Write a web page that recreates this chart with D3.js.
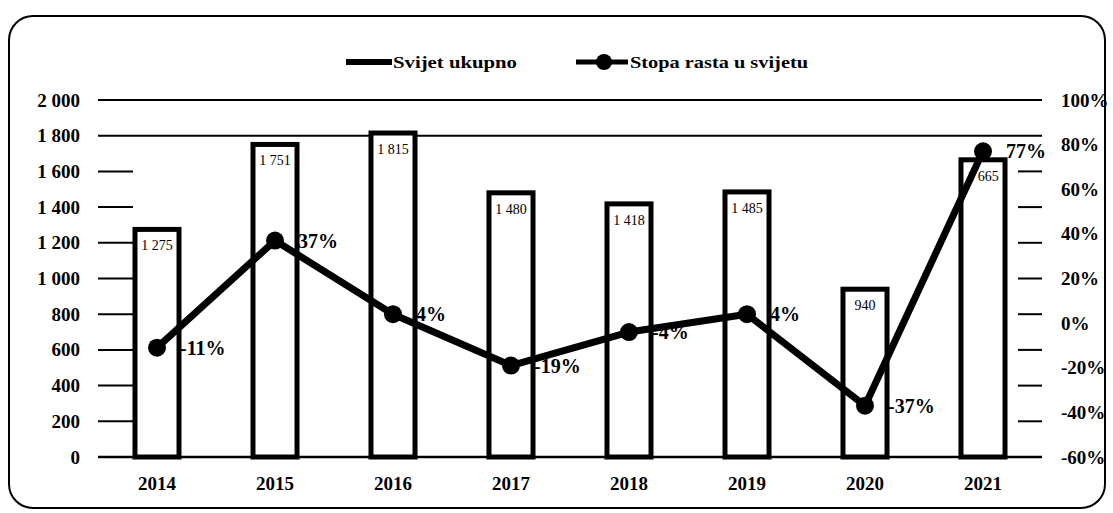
<!DOCTYPE html>
<html>
<head>
<meta charset="utf-8">
<script src="https://cdn.jsdelivr.net/npm/d3@7"></script>
<style>
  html, body { margin: 0; padding: 0; background: #fff; }
  svg { display: block; }
  text { font-family: "Liberation Serif", "DejaVu Serif", serif; fill: #000; }
</style>
</head>
<body>
<svg id="chart" width="1113" height="513"></svg>
<script>
// World total (bars, left axis) and yearly growth rate (line, right axis)
const years = ["2014", "2015", "2016", "2017", "2018", "2019", "2020", "2021"];
const totals = [1275, 1751, 1815, 1480, 1418, 1485, 940, 1665];
const growth = [-0.11, 0.37, 0.04, -0.19, -0.04, 0.04, -0.37, 0.77];
const growthLabels = ["-11%", "37%", "4%", "-19%", "-4%", "4%", "-37%", "77%"];
const leftTicks = [0, 200, 400, 600, 800, 1000, 1200, 1400, 1600, 1800, 2000];
const rightTicks = [-0.6, -0.4, -0.2, 0, 0.2, 0.4, 0.6, 0.8, 1.0];
const seriesNames = ["Svijet ukupno", "Stopa rasta u svijetu"];

const svg = d3.select("#chart");
const plot = { left: 98, right: 1042, top: 100, bottom: 457 };

const x = d3.scaleBand().domain(years).range([plot.left, plot.right])
  .paddingInner(0.593).paddingOuter(0.2965);
const yL = d3.scaleLinear().domain([0, 2000]).range([plot.bottom, plot.top]);
const yR = d3.scaleLinear().domain([-0.6, 1.0]).range([plot.bottom, plot.top]);
const cx = d => x(d) + x.bandwidth() / 2;

const fmtThousands = v => {
  const s = String(v);
  return s.length > 3 ? s.slice(0, s.length - 3) + " " + s.slice(-3) : s;
};
const fmtPct = v => Math.round(v * 100) + "%";

// rounded frame around the chart
svg.append("rect")
  .attr("x", 9).attr("y", 16).attr("width", 1096).attr("height", 492)
  .attr("rx", 24).attr("ry", 24)
  .attr("fill", "none").attr("stroke", "#000").attr("stroke-width", 2);

// gridlines: full width at the top two ticks, short stubs on both sides elsewhere
const grid = svg.append("g");
leftTicks.forEach(t => {
  const yy = yL(t);
  if (t >= 1800 || t === 0) {
    grid.append("line").attr("x1", plot.left).attr("x2", plot.right)
      .attr("y1", yy).attr("y2", yy).attr("stroke", "#000").attr("stroke-width", t === 0 ? 2.5 : 2);
  } else {
    grid.append("line").attr("x1", plot.left).attr("x2", plot.left + 35)
      .attr("y1", yy).attr("y2", yy).attr("stroke", "#000").attr("stroke-width", 2);
    grid.append("line").attr("x1", plot.right - 24).attr("x2", plot.right)
      .attr("y1", yy).attr("y2", yy).attr("stroke", "#000").attr("stroke-width", 2);
  }
});

// left axis
const axL = svg.append("g").attr("transform", `translate(${plot.left - 18},0)`)
  .call(d3.axisLeft(yL).tickValues(leftTicks).tickFormat(fmtThousands).tickSize(0).tickPadding(0));
axL.select(".domain").remove();
axL.selectAll("text").attr("font-size", 19).attr("font-weight", "bold")
  .style("font-family", "'Liberation Serif', serif");

// right axis
const axR = svg.append("g").attr("transform", `translate(${plot.right + 19},0)`)
  .call(d3.axisRight(yR).tickValues(rightTicks).tickFormat(fmtPct).tickSize(0).tickPadding(0));
axR.select(".domain").remove();
axR.selectAll("text").attr("font-size", 19).attr("font-weight", "bold")
  .style("font-family", "'Liberation Serif', serif");

// category axis
const axX = svg.append("g").attr("transform", `translate(0,${plot.bottom + 16})`)
  .call(d3.axisBottom(x).tickSize(0).tickPadding(0));
axX.select(".domain").remove();
axX.selectAll("text").attr("font-size", 19).attr("font-weight", "bold")
  .attr("dy", "0.9em")
  .style("font-family", "'Liberation Serif', serif");

// bars: white fill with heavy black outline
const barW = x.bandwidth() - 4;
svg.append("g").selectAll("rect").data(years).join("rect")
  .attr("x", d => cx(d) - barW / 2)
  .attr("y", (d, i) => yL(totals[i]))
  .attr("width", barW)
  .attr("height", (d, i) => yL(0) - yL(totals[i]))
  .attr("fill", "#fff").attr("stroke", "#000").attr("stroke-width", 5);

// bar value labels inside the top of each bar
svg.append("g").selectAll("text").data(years).join("text")
  .attr("x", d => cx(d))
  .attr("y", (d, i) => yL(totals[i]) + 21)
  .attr("text-anchor", "middle")
  .attr("font-size", 14)
  .text((d, i) => fmtThousands(totals[i]));

// growth rate line with markers
const pts = years.map((d, i) => [cx(d), yR(growth[i])]);
svg.append("path").datum(pts)
  .attr("d", d3.line())
  .attr("fill", "none").attr("stroke", "#000").attr("stroke-width", 7)
  .attr("stroke-linejoin", "round");
svg.append("g").selectAll("circle").data(pts).join("circle")
  .attr("cx", d => d[0]).attr("cy", d => d[1]).attr("r", 9).attr("fill", "#000");

// growth labels to the right of each marker
svg.append("g").selectAll("text").data(years).join("text")
  .attr("x", d => cx(d) + 23)
  .attr("y", (d, i) => yR(growth[i]))
  .attr("dy", "0.35em")
  .attr("font-size", 20).attr("font-weight", "bold")
  .text((d, i) => growthLabels[i]);

// legend
const lg = svg.append("g").attr("transform", "translate(0,62)");
lg.append("rect").attr("x", 346).attr("y", -3).attr("width", 46).attr("height", 6).attr("fill", "#000");
lg.append("text").attr("x", 393).attr("y", 0).attr("dy", "0.35em")
  .attr("font-size", 17).attr("font-weight", "bold")
  .attr("textLength", 124).attr("lengthAdjust", "spacingAndGlyphs")
  .text(seriesNames[0]);
lg.append("line").attr("x1", 576).attr("x2", 628).attr("y1", 0).attr("y2", 0)
  .attr("stroke", "#000").attr("stroke-width", 5);
lg.append("circle").attr("cx", 604).attr("cy", 0).attr("r", 8).attr("fill", "#000");
lg.append("text").attr("x", 630).attr("y", 0).attr("dy", "0.35em")
  .attr("font-size", 17).attr("font-weight", "bold")
  .attr("textLength", 178).attr("lengthAdjust", "spacingAndGlyphs")
  .text(seriesNames[1]);
</script>
</body>
</html>
